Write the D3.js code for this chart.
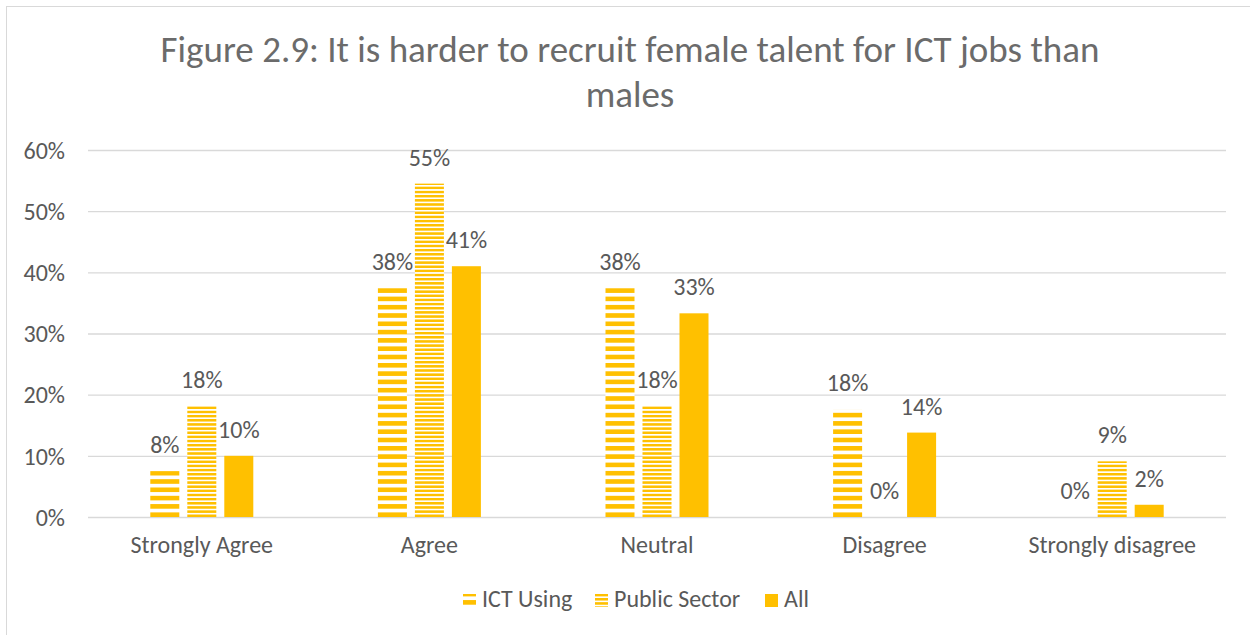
<!DOCTYPE html>
<html>
<head>
<meta charset="utf-8">
<script src="https://cdn.jsdelivr.net/npm/d3@7"></script>
<style>
  body { margin: 0; background: #fff; }
  svg text { font-family: Calibri, Carlito, "Noto Sans", sans-serif; }
</style>
</head>
<body>
<div id="chart"></div>
<script>
"use strict";
var titleLines = ["Figure 2.9: It is harder to recruit female talent for ICT jobs than", "males"];
var categories = ["Strongly Agree", "Agree", "Neutral", "Disagree", "Strongly disagree"];
var seriesNames = ["ICT Using", "Public Sector", "All"];
var ictUsing = [0.075, 0.375, 0.375, 0.176, 0.0];
var publicSector = [0.182, 0.545, 0.182, 0.0, 0.091];
var all = [0.10, 0.41, 0.333, 0.138, 0.02];
var yTicks = [0, 0.1, 0.2, 0.3, 0.4, 0.5, 0.6];

var width = 1250, height = 635;
var plot = { left: 88, right: 1226, top: 150, bottom: 517 };
var gold = "#FFC000";
var fontSize = "24px";

var svg = d3.select("#chart").append("svg")
    .attr("width", width)
    .attr("height", height);

// hatch patterns like excel's wide / narrow horizontal fills
var defs = svg.append("defs");
function stripes(id, step, thick) {
    var p = defs.append("pattern")
        .attr("id", id)
        .attr("patternUnits", "userSpaceOnUse")
        .attr("x", 0).attr("y", plot.bottom)
        .attr("width", 10).attr("height", step);
    p.append("rect").attr("width", 10).attr("height", step).attr("fill", "#fff");
    p.append("rect").attr("y", step - thick).attr("width", 10).attr("height", thick).attr("fill", gold);
}
stripes("wideHorz", 8.3, 4.6);
stripes("narrowHorz", 4.15, 2.5);
var fills = ["url(#wideHorz)", "url(#narrowHorz)", gold];

svg.append("rect")
    .attr("x", 6.5).attr("y", 6.5)
    .attr("width", width).attr("height", height)
    .attr("fill", "none")
    .attr("stroke", "#d9d9d9");

svg.append("g").selectAll("text")
    .data(titleLines)
    .enter().append("text")
    .attr("x", 630)
    .attr("y", function (d, i) { return 62 + i * 45; })
    .attr("text-anchor", "middle")
    .style("font-size", "37px")
    .style("fill", "#6b6b6b")
    .text(function (d) { return d; });

var x0 = d3.scaleBand().domain(categories).range([plot.left, plot.right]);
var groupW = 103;
var x1 = d3.scaleBand().domain(seriesNames).range([0, groupW]).paddingInner(0.216);
var y = d3.scaleLinear().domain([0, 0.6]).range([plot.bottom, plot.top]);

var yAxis = d3.axisLeft(y)
    .tickValues(yTicks)
    .tickFormat(d3.format(".0%"))
    .tickSize(-(plot.right - plot.left))
    .tickPadding(23);
var gy = svg.append("g")
    .attr("transform", "translate(" + plot.left + ",0)")
    .call(yAxis);
gy.select(".domain").remove();
gy.selectAll(".tick line").attr("stroke", "#d9d9d9").attr("stroke-width", 1.3);
gy.selectAll(".tick text")
    .attr("dy", "0.34em")
    .style("font-size", fontSize)
    .style("fill", "#595959")
    .style("font-family", null);

var xAxis = d3.axisBottom(x0).tickSize(0);
var gx = svg.append("g")
    .attr("transform", "translate(0," + plot.bottom + ")")
    .call(xAxis);
gx.select(".domain").remove();
gx.selectAll(".tick text")
    .attr("y", 36)
    .attr("dy", 0)
    .style("font-size", fontSize)
    .style("fill", "#595959")
    .style("font-family", null);

var series = [ictUsing, publicSector, all];
var rows = categories.map(function (c, i) {
    return series.map(function (s, j) { return { cat: c, name: seriesNames[j], value: s[i], k: j }; });
});

var groups = svg.append("g").selectAll("g")
    .data(rows)
    .enter().append("g")
    .attr("transform", function (d, i) {
        return "translate(" + (x0(categories[i]) + (x0.bandwidth() - groupW) / 2) + ",0)";
    });

groups.selectAll("rect")
    .data(function (d) { return d; })
    .enter().append("rect")
    .attr("x", function (d) { return x1(d.name); })
    .attr("y", function (d) { return y(d.value); })
    .attr("width", x1.bandwidth())
    .attr("height", function (d) { return y(0) - y(d.value); })
    .attr("fill", function (d) { return fills[d.k]; });

groups.selectAll("text")
    .data(function (d) { return d; })
    .enter().append("text")
    .attr("x", function (d) { return x1(d.name) + x1.bandwidth() / 2; })
    .attr("y", function (d) { return y(d.value) - 18; })
    .attr("text-anchor", "middle")
    .style("font-size", fontSize)
    .style("fill", "#595959")
    .text(function (d) { return d3.format(".0%")(d.value); });

// legend
var legendX = [463, 595, 765];
var legend = svg.append("g").selectAll("g")
    .data(seriesNames)
    .enter().append("g")
    .attr("transform", function (d, i) { return "translate(" + legendX[i] + ",594)"; });
legend.append("rect")
    .attr("width", 13).attr("height", 13)
    .attr("fill", function (d, i) { return fills[i]; });
legend.append("text")
    .attr("x", 19).attr("y", 13)
    .style("font-size", fontSize)
    .style("fill", "#595959")
    .text(function (d) { return d; });
</script>
</body>
</html>
